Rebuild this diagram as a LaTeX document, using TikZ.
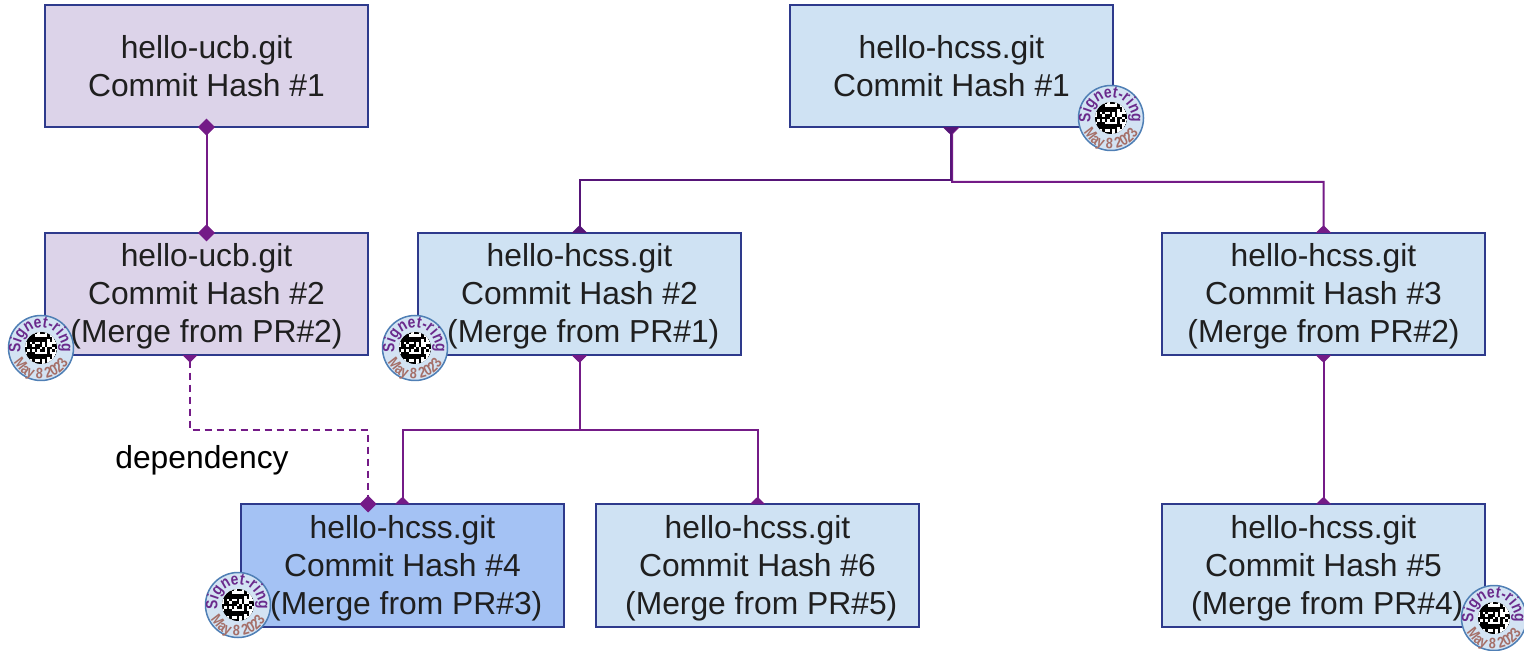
\documentclass[tikz,border=0pt]{standalone}
\usepackage{fontspec}
\setmainfont{Liberation Sans}
\newfontfamily\sealfont[FakeStretch=0.84]{Liberation Sans}
\usetikzlibrary{arrows.meta, decorations.text}

\definecolor{boxline}{HTML}{2E3A8C}
\definecolor{ucbfill}{HTML}{DCD3E9}
\definecolor{hcssfill}{HTML}{CFE2F3}
\definecolor{mergefill}{HTML}{A4C2F4}
\definecolor{linkline}{HTML}{741B87}
\definecolor{linkdark}{HTML}{561578}
\definecolor{inktext}{HTML}{1F1F1F}
\definecolor{sealfill}{HTML}{D3E3F3}
\definecolor{sealline}{HTML}{4F7FB5}
\definecolor{sealtop}{HTML}{6A2A8C}
\definecolor{sealdate}{HTML}{A56F68}

\newcommand{\indentline}{\hspace*{0.15cm}}
\newcommand{\toproom}{\rule{0pt}{15.8pt}}

\tikzset{
  commit/.style={draw=boxline,line width=0.04cm,minimum width=6.46cm,minimum height=2.45cm,
    outer sep=0pt,align=center,text=inktext,font=\fontsize{18.1}{21.6}\selectfont},
  ucbcommit/.style={commit,fill=ucbfill},
  hcsscommit/.style={commit,fill=hcssfill},
  mergecommit/.style={commit,fill=mergefill},
  link/.style={draw=linkline,line width=0.04cm},
  treelink/.style={link,{Triangle[reversed,length=0.15cm,width=0.3cm]}-{Triangle[reversed,length=0.15cm,width=0.3cm]}},
  solidlink/.style={link,{Diamond[length=0.34cm,width=0.34cm]}-{Diamond[length=0.34cm,width=0.34cm]},shorten <=-0.17cm,shorten >=-0.17cm},
  deplink/.style={link,dash pattern=on 0.14cm off 0.1cm,{Triangle[reversed,length=0.15cm,width=0.3cm]}-{Diamond[length=0.34cm,width=0.34cm]},shorten >=-0.17cm},
  seal/.pic={
    \begin{scope}[y=0.02cm]
      \fill[sealfill] (0,0) circle (32.5);
      \draw[sealline,line width=0.03cm] (0,0) circle (32.5);
      \fill[black] (0,0) circle (16);
      \begin{scope}
        \clip (0,0) circle (16);
        \foreach \i in {0,...,12}
          \foreach \j in {0,...,12} {
            \pgfmathtruncatemacro{\cell}{mod(\i*\i*\j+3*\j*\j+5*\i+11*\j,7)}
            \pgfmathtruncatemacro{\limit}{\i>6?4:2}
            \ifnum\cell<\limit
              \fill[white] (-16.25+2.5*\i,-16.25+2.5*\j) rectangle ++(2.5,2.5);
            \fi
          }
      \end{scope}
      \path[decorate,decoration={text along path,text align=center,
        text={|\sealfont\fontsize{9.4}{10}\selectfont\bfseries\color{sealtop}|Signet-ring}}]
        (198:20.5) arc[start angle=198,end angle=-18,radius=20.5];
      \path[decorate,decoration={text along path,text align=center,
        text={|\sealfont\fontsize{8.6}{9}\selectfont\bfseries\color{sealdate}|May 8 2023}}]
        (204:31) arc[start angle=204,end angle=336,radius=31];
    \end{scope}
  }
}

\begin{document}
\begin{tikzpicture}[x=0.02cm,y=-0.02cm]
  \useasboundingbox (0,0) rectangle (1524,651);

  \node [ucbcommit] at (206.5,66) (ucbOne) {hello-ucb.git\\Commit Hash \#1};
  \node [ucbcommit] at (206.5,294) (ucbTwo) {\toproom hello-ucb.git\\Commit Hash \#2\\(Merge from PR\#2)};

  \node [hcsscommit] at (951.5,66) (hcssOne) {hello-hcss.git\\Commit Hash \#1};
  \node [hcsscommit] at (579.5,294) (hcssTwo) {\toproom hello-hcss.git\\Commit Hash \#2\\\indentline(Merge from PR\#1)};
  \node [hcsscommit] at (1323.5,294) (hcssThree) {\toproom hello-hcss.git\\Commit Hash \#3\\(Merge from PR\#2)};
  \node [mergecommit] at (402.5,565.5) (hcssFour) {\toproom hello-hcss.git\\Commit Hash \#4\\\indentline(Merge from PR\#3)};
  \node [hcsscommit] at (757.5,565.5) (hcssSix) {\toproom hello-hcss.git\\Commit Hash \#6\\\indentline(Merge from PR\#5)};
  \node [hcsscommit] at (1323.5,565.5) (hcssFive) {\toproom hello-hcss.git\\Commit Hash \#5\\\indentline(Merge from PR\#4)};

  \node [font=\fontsize{18.1}{21.6}\selectfont] at (202,460.5) (depLabel) {dependency};

  \coordinate (forkLeft) at (579.5,180);
  \coordinate (forkRight) at (952,182);
  \coordinate (forkTwo) at (579.5,430);
  \coordinate (depStart) at (190,355);
  \coordinate (depTurn) at (190,430);
  \coordinate (depEnd) at (368,504);

  \draw[solidlink] (ucbOne.south) -- (ucbTwo.north);
  \draw[treelink] ([xshift=0.01cm]hcssOne.south) -- (forkRight) -| (hcssThree.north);
  \draw[treelink,draw=linkdark] ([xshift=-0.02cm]hcssOne.south) |- (forkLeft) -- (hcssTwo.north);
  \draw[treelink] (hcssTwo.south) -- (forkTwo) -| (hcssFour.north);
  \draw[treelink] (hcssTwo.south) -- (forkTwo) -| (hcssSix.north);
  \draw[treelink] (hcssThree.south) -- (hcssFive.north);
  \draw[deplink] (depStart) -- (depTurn) -| (depEnd);

  \pic at (1111,118) {seal};
  \pic at (41,348) {seal};
  \pic at (415,348) {seal};
  \pic at (238,605) {seal};
  \pic at (1494,618) {seal};
\end{tikzpicture}
\end{document}
